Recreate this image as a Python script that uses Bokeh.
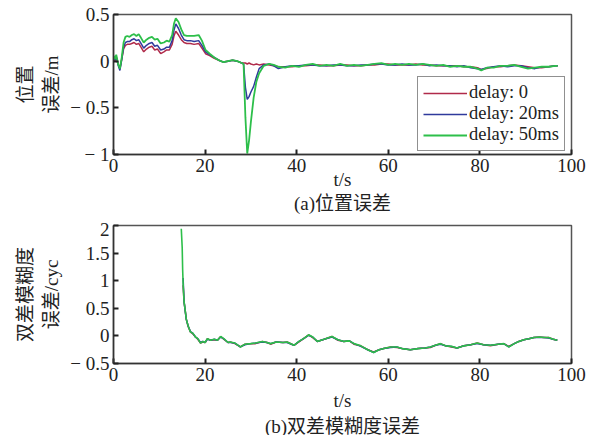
from bokeh.plotting import figure
from bokeh.layouts import column
from bokeh.models import Range1d, FixedTicker, Legend, LegendItem, Title
from bokeh.embed import file_html
from bokeh.resources import INLINE

NaN = float("nan")

# ---------------- data: (a) position error ----------------
t_pos = [0.0, 0.3, 0.6, 1.0, 1.4, 1.8, 2.2, 2.6, 3.0,
         3.5, 4.0, 4.5, 5.0, 5.5, 6.0, 6.6, 7.2, 7.8, 8.4,
         9.0, 9.6, 10.3, 11.0, 11.6, 12.2, 12.8, 13.2, 13.6, 14.2,
         14.8, 15.4, 16.0, 16.8, 17.6, 18.6, 19.3, 20.1, 21.0, 22.0,
         23.0, 24.0, 25.0, 26.0, 27.0, 28.0, 28.4, 28.8, 29.2, 29.6,
         30.0, 30.6, 31.2, 31.8, 32.8, 34.0, 35.0, 36.0,
         37.5, 39.0, 40.5, 42.0, 43.5, 45.0, 46.5, 48.0, 49.5, 51.0,
         52.5, 54.0, 55.5, 57.0, 58.5, 60.0, 61.5, 63.0, 64.5, 66.0,
         67.5, 69.0, 70.5, 72.0, 73.5, 75.0, 76.5, 78.0, 79.5, 80.3,
         81.5, 83.0, 84.5, 86.0, 87.5, 89.0, 90.5, 92.0, 93.5, 95.0,
         96.5, 97.0]

pos_d50 = [0.06, 0.02, 0.07, -0.03, -0.08, 0.04, 0.20, 0.26, 0.27,
           0.26, 0.28, 0.29, 0.27, 0.29, 0.25, 0.20, 0.23, 0.25, 0.26,
           0.23, 0.24, 0.19, 0.20, 0.22, 0.21, 0.28, 0.40, 0.46, 0.42,
           0.34, 0.28, 0.27, 0.27, 0.27, 0.28, 0.22, 0.12, 0.08, 0.04,
           0.01, -0.01, 0.00, 0.01, 0.00, -0.02, -0.03, -0.60, -0.99, -0.85,
           -0.65, -0.39, -0.22, -0.13, -0.05, -0.03, -0.04, -0.06,
           -0.07, -0.05, -0.06, -0.04, -0.03, -0.05, -0.04, -0.05, -0.03, -0.05,
           -0.04, -0.05, -0.04, -0.03, -0.02, -0.04, -0.03, -0.04, -0.03, -0.04,
           -0.03, -0.04, -0.05, -0.04, -0.06, -0.05, -0.06, -0.06, -0.08, -0.10,
           -0.07, -0.07, -0.05, -0.05, -0.04, -0.06, -0.08, -0.07, -0.06, -0.06,
           -0.05, -0.05]

pos_d20 = [0.04, 0.01, 0.05, -0.04, -0.10, 0.02, 0.15, 0.20, 0.21,
           0.21, 0.23, 0.24, 0.22, 0.23, 0.19, 0.14, 0.17, 0.19, 0.20,
           0.16, 0.17, 0.12, 0.13, 0.15, 0.15, 0.22, 0.33, 0.40, 0.35,
           0.28, 0.23, 0.22, 0.22, 0.21, 0.22, 0.17, 0.10, 0.07, 0.04,
           0.01, -0.01, 0.00, 0.01, 0.00, -0.02, -0.03, -0.28, -0.41, -0.38,
           -0.33, -0.27, -0.17, -0.08, -0.04, -0.03, -0.05, -0.08,
           -0.06, -0.05, -0.05, -0.04, -0.04, -0.05, -0.05, -0.04, -0.04, -0.05,
           -0.05, -0.04, -0.04, -0.03, -0.03, -0.04, -0.04, -0.03, -0.04, -0.04,
           -0.03, -0.05, -0.04, -0.05, -0.05, -0.06, -0.05, -0.07, -0.08, -0.09,
           -0.07, -0.06, -0.05, -0.06, -0.05, -0.05, -0.07, -0.08, -0.06, -0.06,
           -0.05, -0.05]

pos_d0 = [0.03, 0.00, 0.04, -0.03, -0.08, 0.02, 0.13, 0.17, 0.18,
          0.18, 0.19, 0.20, 0.18, 0.19, 0.15, 0.10, 0.13, 0.15, 0.16,
          0.12, 0.13, 0.08, 0.10, 0.12, 0.12, 0.18, 0.27, 0.32, 0.28,
          0.23, 0.20, 0.19, 0.19, 0.18, 0.19, 0.14, 0.08, 0.06, 0.03,
          0.01, -0.01, 0.00, 0.01, 0.00, -0.02, -0.02, -0.02, -0.03, -0.02,
          -0.03, -0.04, -0.03, -0.04, -0.03, -0.04, -0.05, -0.06,
          -0.06, -0.06, -0.05, -0.05, -0.04, -0.04, -0.05, -0.05, -0.04, -0.04,
          -0.05, -0.05, -0.04, -0.04, -0.03, -0.03, -0.04, -0.04, -0.04, -0.03,
          -0.04, -0.04, -0.05, -0.05, -0.05, -0.05, -0.06, -0.06, -0.07, -0.09,
          -0.08, -0.06, -0.06, -0.05, -0.04, -0.05, -0.06, -0.07, -0.07, -0.06,
          -0.05, -0.05]

# ---------------- data: (b) double-difference ambiguity error ----------------
t_amb = [14.8, 15.0, 15.1, 15.2, 15.4, 15.6, 15.9, 16.3, 16.8, 17.3,
         17.9, 18.4, 19.0, 19.5, 20.0, 20.5, 21.2, 22.0, 22.7, 23.4,
         24.2, 25.0, 25.5, 26.5, 27.7, 28.7, 29.9, 31.0, 32.5, 33.5,
         34.3, 35.5, 37.0, 37.9, 39.4, 40.5, 41.5, 42.6, 43.5, 44.5,
         46.0, 47.7, 49.0, 50.3, 51.5, 52.5, 54.0, 55.5, 56.8, 58.0,
         59.0, 60.5, 61.9, 63.0, 64.8, 66.5, 68.0, 69.2, 70.3, 71.4,
         72.5, 73.8, 75.0, 76.5, 78.0, 79.4, 80.8, 82.3, 84.0, 85.2,
         86.3, 87.5, 88.5, 89.6, 90.7, 91.8, 93.0, 94.0, 95.0, 96.0,
         96.9]

amb_d50 = [1.94, 1.60, 1.20, 0.95, 0.62, 0.50, 0.30, 0.18, 0.07, 0.05,
           -0.02, -0.05, -0.13, -0.10, -0.12, -0.05, -0.08, -0.06, -0.08, -0.01,
           -0.06, -0.12, -0.11, -0.13, -0.20, -0.15, -0.14, -0.13, -0.10, -0.12,
           -0.14, -0.11, -0.12, -0.11, -0.17, -0.10, -0.05, 0.02, -0.02, -0.10,
           -0.06, -0.01, -0.07, -0.10, -0.09, -0.14, -0.18, -0.25, -0.30, -0.25,
           -0.23, -0.20, -0.20, -0.23, -0.25, -0.23, -0.22, -0.20, -0.17, -0.14,
           -0.18, -0.19, -0.22, -0.18, -0.16, -0.13, -0.16, -0.17, -0.15, -0.14,
           -0.20, -0.14, -0.10, -0.07, -0.05, -0.03, -0.02, -0.03, -0.03, -0.06,
           -0.08]

amb_d20 = [NaN, NaN, NaN, 1.05, 0.63, 0.49, 0.30, 0.18, 0.08, 0.05,
           -0.02, -0.05, -0.12, -0.10, -0.12, -0.06, -0.08, -0.06, -0.08, -0.02,
           -0.06, -0.12, -0.12, -0.13, -0.20, -0.16, -0.14, -0.13, -0.11, -0.12,
           -0.14, -0.11, -0.12, -0.12, -0.17, -0.10, -0.05, 0.01, -0.02, -0.10,
           -0.06, -0.02, -0.07, -0.10, -0.09, -0.14, -0.19, -0.25, -0.30, -0.25,
           -0.23, -0.21, -0.20, -0.23, -0.25, -0.23, -0.22, -0.20, -0.17, -0.15,
           -0.18, -0.19, -0.22, -0.18, -0.16, -0.14, -0.16, -0.17, -0.15, -0.14,
           -0.20, -0.14, -0.10, -0.07, -0.05, -0.03, -0.03, -0.03, -0.04, -0.06,
           -0.08]

amb_d0 = [NaN, NaN, NaN, 0.92, 0.62, 0.50, 0.30, 0.17, 0.07, 0.04,
          -0.02, -0.06, -0.13, -0.11, -0.12, -0.05, -0.08, -0.07, -0.08, -0.01,
          -0.07, -0.12, -0.11, -0.14, -0.20, -0.15, -0.14, -0.14, -0.10, -0.12,
          -0.15, -0.11, -0.12, -0.11, -0.17, -0.11, -0.05, 0.02, -0.03, -0.10,
          -0.06, -0.01, -0.08, -0.10, -0.09, -0.15, -0.18, -0.25, -0.29, -0.25,
          -0.23, -0.20, -0.21, -0.23, -0.25, -0.23, -0.22, -0.21, -0.17, -0.14,
          -0.18, -0.20, -0.22, -0.18, -0.16, -0.13, -0.16, -0.18, -0.15, -0.14,
          -0.19, -0.14, -0.10, -0.07, -0.05, -0.03, -0.02, -0.03, -0.03, -0.06,
          -0.08]

x_ticks = [0, 20, 40, 60, 80, 100]
y1_ticks = [-1, -0.5, 0, 0.5]
y1_labels = ["\u2212 1", "\u2212 0.5", "0", "0.5"]
y2_ticks = [-0.5, 0, 0.5, 1, 1.5, 2]
y2_labels = ["\u2212 0.5", "0", "0.5", "1", "1.5", "2"]
series_names = ["delay: 0", "delay: 20ms", "delay: 50ms"]
colors = ["#b02a4a", "#2f3a9c", "#2dbf4a"]

SERIF = "Liberation Serif"
MIXED = "Liberation Serif, Noto Sans CJK SC"
FS = "19px"


def style(p, yticks, ylabels, xlabel, ylabel, caption, xl_standoff, cap_standoff):
    p.xgrid.visible = False
    p.ygrid.visible = False
    p.outline_line_color = "#555555"
    p.outline_line_width = 1.5
    p.background_fill_color = "white"
    p.border_fill_color = "white"
    for ax in (p.xaxis[0], p.yaxis[0]):
        ax.axis_line_color = "#333333"
        ax.axis_line_width = 1.5
        ax.major_tick_in = 5
        ax.major_tick_out = 0
        ax.major_tick_line_width = 2
        ax.major_tick_line_color = "#222222"
        ax.minor_tick_in = 0
        ax.minor_tick_out = 0
        ax.major_label_text_font = SERIF
        ax.major_label_text_font_size = FS
        ax.major_label_text_color = "#222222"
        ax.major_label_standoff = 4
        ax.axis_label_text_font = MIXED
        ax.axis_label_text_font_size = FS
        ax.axis_label_text_font_style = "normal"
        ax.axis_label_text_color = "#222222"
    p.xaxis[0].ticker = FixedTicker(ticks=x_ticks)
    p.yaxis[0].ticker = FixedTicker(ticks=yticks)
    p.yaxis[0].major_label_overrides = {float(k): v for k, v in zip(yticks, ylabels)}
    p.xaxis[0].axis_label = xlabel
    p.xaxis[0].axis_label_standoff = xl_standoff
    p.yaxis[0].axis_label = ylabel
    p.yaxis[0].axis_label_standoff = 5
    p.yaxis[0].axis_label_text_line_height = 1.25
    p.add_layout(Title(text=caption, align="center", text_font=MIXED,
                       text_font_size=FS, text_font_style="normal",
                       text_color="#222222", standoff=cap_standoff, offset=0), "below")


# ---------------- figure (a) ----------------
p1 = figure(frame_width=458, frame_height=140, output_backend="svg", toolbar_location=None,
            x_range=Range1d(0, 100), y_range=Range1d(-1, 0.5),
            min_border_left=113, min_border_right=17, min_border_top=14,
            min_border_bottom=64)
style(p1, y1_ticks, y1_labels, "t/s", "位置\n误差/m", "(a)位置误差", -6, -4)
r0 = p1.line(t_pos, pos_d0, line_color=colors[0], line_width=1.5)
r1 = p1.line(t_pos, pos_d20, line_color=colors[1], line_width=1.5)
r2 = p1.line(t_pos, pos_d50, line_color=colors[2], line_width=1.8)
leg = Legend(items=[LegendItem(label=series_names[0], renderers=[r0]),
                    LegendItem(label=series_names[1], renderers=[r1]),
                    LegendItem(label=series_names[2], renderers=[r2])],
             location=(304, 3), orientation="vertical")
leg.label_text_font = SERIF
leg.label_text_font_size = "18.5px"
leg.label_text_color = "#222222"
leg.label_height = 18
leg.glyph_height = 18
leg.glyph_width = 44
leg.label_standoff = 2
leg.spacing = 0
leg.padding = 5
leg.margin = 0
leg.border_line_color = "#222222"
leg.border_line_width = 1.2
leg.background_fill_alpha = 1.0
p1.add_layout(leg, "center")

# ---------------- figure (b) ----------------
p2 = figure(frame_width=458, frame_height=138, output_backend="svg", toolbar_location=None,
            x_range=Range1d(0, 100), y_range=Range1d(-0.5, 2),
            min_border_left=113, min_border_right=17, min_border_top=7,
            min_border_bottom=70)
style(p2, y2_ticks, y2_labels, "t/s", "双差模糊度\n误差/cyc", "(b)双差模糊度误差", 6, 0)
p2.line(t_amb, amb_d0, line_color=colors[0], line_width=1.5)
p2.line(t_amb, amb_d20, line_color=colors[1], line_width=1.5)
p2.line(t_amb, amb_d50, line_color=colors[2], line_width=1.6)

layout = column(p1, p2, spacing=0)
open("out.html", "w").write(file_html(layout, INLINE))
